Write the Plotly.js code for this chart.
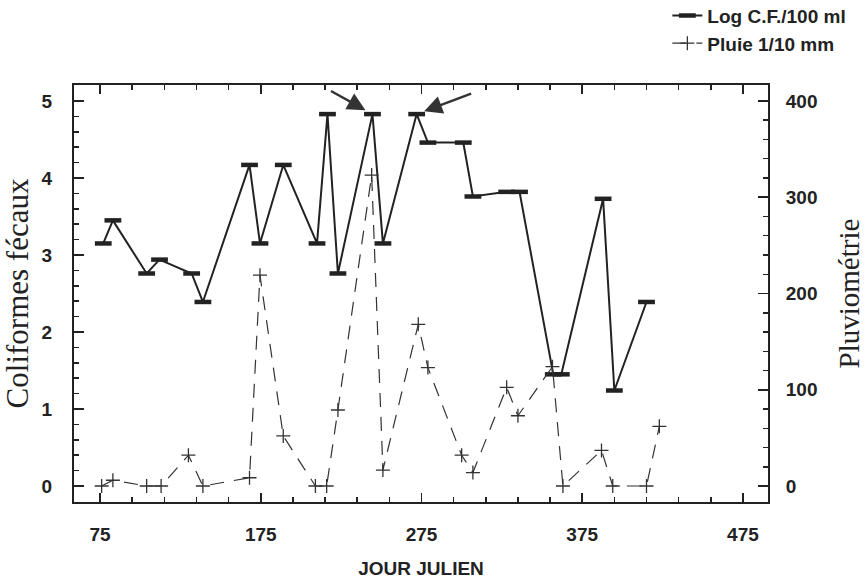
<!DOCTYPE html>
<html>
<head>
<meta charset="utf-8">
<script src="https://cdn.plot.ly/plotly-3.0.1.min.js"></script>
<style>html,body{margin:0;padding:0;background:#fff;}#chart{width:867px;height:581px;}</style>
</head>
<body>
<div id="chart"></div>
<script>
// Log C.F./100 ml (left axis)
const daysCF = [77, 83, 104, 112, 132, 139, 168, 174.5, 189, 210, 216.5, 223, 244.5, 251, 272, 279, 301, 307, 328, 336, 357, 362, 388, 395, 415];
const logCF  = [3.15, 3.45, 2.76, 2.94, 2.76, 2.39, 4.17, 3.15, 4.17, 3.15, 4.83, 2.76, 4.83, 3.15, 4.83, 4.46, 4.46, 3.76, 3.82, 3.82, 1.45, 1.45, 3.73, 1.24, 2.39];
// Pluie 1/10 mm (right axis)
const daysRain = [76, 83, 104, 113, 130, 139, 168, 174.5, 189, 209, 216, 223, 244, 251, 273, 279, 300, 307, 328, 335, 356.5, 363, 387, 394, 415, 423];
const rain     = [0, 6, 0, 0, 32, 0, 8.6, 219, 52, 0, 0, 79, 323, 16.6, 168, 123, 32, 14, 102.5, 73, 124, 0, 37, 0, 0, 62];
// tick labels
const xTicks = [75, 175, 275, 375, 475];
const yTicks = [0, 1, 2, 3, 4, 5];
const y2Ticks = [0, 100, 200, 300, 400];
const arrowIdx = [12, 14];

const ink = '#222';
const sans = 'Liberation Sans, Arial, sans-serif';
const tickFont = {family: sans, size: 19, color: ink, weight: 'bold'};
const serif = {family: 'Liberation Serif, Times New Roman, serif', size: 31, color: ink};

const traces = [
  {x: daysCF, y: logCF, name: 'Log C.F./100 ml', type: 'scatter', mode: 'lines+markers',
   line: {color: ink, width: 2},
   marker: {symbol: 'line-ew', size: 12, color: ink, line: {width: 4.5, color: ink}}},
  {x: daysRain, y: rain, name: 'Pluie 1/10 mm', type: 'scatter', mode: 'lines+markers', yaxis: 'y2',
   line: {color: '#333', width: 1.2, dash: '14px,10px'},
   marker: {symbol: 'cross-thin-open', size: 10, color: '#333', line: {width: 1.3, color: '#333'}}}
];

const layout = {
  width: 867, height: 581,
  margin: {l: 74, r: 99, t: 85, b: 79, autoexpand: false},
  paper_bgcolor: '#fff', plot_bgcolor: '#fff',
  showlegend: true,
  legend: {x: 0.855, y: 1.212, xanchor: 'left', yanchor: 'top', bgcolor: 'rgba(0,0,0,0)',
           font: {family: sans, size: 19, color: ink, weight: 'bold'},
           itemwidth: 30, tracegroupgap: 0},
  xaxis: {range: [58.8, 490.6], tickvals: xTicks, ticks: 'inside', ticklen: 9, tickwidth: 1.5, tickcolor: ink,
          minor: {tick0: 75, dtick: 20, ticks: 'inside', ticklen: 5, tickwidth: 1.5, tickcolor: ink},
          showline: true, linewidth: 2, linecolor: ink, mirror: 'ticks', showgrid: false, zeroline: false,
          tickfont: tickFont, ticklabelstandoff: 14,
          title: {text: 'JOUR JULIEN', font: {family: sans, size: 19, color: ink, weight: 'bold'}, standoff: 18}},
  yaxis: {range: [-0.208, 5.208], tickvals: yTicks, ticks: 'inside', ticklen: 10, tickwidth: 1.5, tickcolor: ink,
          minor: {dtick: 0.2, ticks: 'inside', ticklen: 5, tickwidth: 1.5, tickcolor: ink},
          showline: true, linewidth: 2, linecolor: ink, showgrid: false, zeroline: false,
          tickfont: tickFont, ticklabelstandoff: 16,
          title: {text: 'Coliformes fécaux', font: serif, standoff: 4}},
  yaxis2: {range: [-16.6, 416.6], tickvals: y2Ticks, overlaying: 'y', side: 'right', ticks: 'inside', ticklen: 10, tickwidth: 1.5, tickcolor: ink,
          minor: {dtick: 20, ticks: 'inside', ticklen: 5, tickwidth: 1.5, tickcolor: ink},
          showline: true, linewidth: 2, linecolor: ink, showgrid: false, zeroline: false,
          tickfont: tickFont, ticklabelstandoff: 12,
          title: {text: 'Pluviométrie', font: {family: serif.family, size: 29, color: ink}, standoff: 22}},
  annotations: [
    {x: daysCF[arrowIdx[0]], y: logCF[arrowIdx[0]], xref: 'x', yref: 'y', ax: -43, ay: -24, text: '',
     showarrow: true, arrowhead: 2, arrowsize: 1.5, arrowwidth: 2.4, arrowcolor: '#333', standoff: 8},
    {x: daysCF[arrowIdx[1]], y: logCF[arrowIdx[1]], xref: 'x', yref: 'y', ax: 56, ay: -21, text: '',
     showarrow: true, arrowhead: 2, arrowsize: 1.5, arrowwidth: 2.4, arrowcolor: '#333', standoff: 8}
  ]
};

Plotly.newPlot('chart', traces, layout, {displayModeBar: false, staticPlot: true});
</script>
</body>
</html>
